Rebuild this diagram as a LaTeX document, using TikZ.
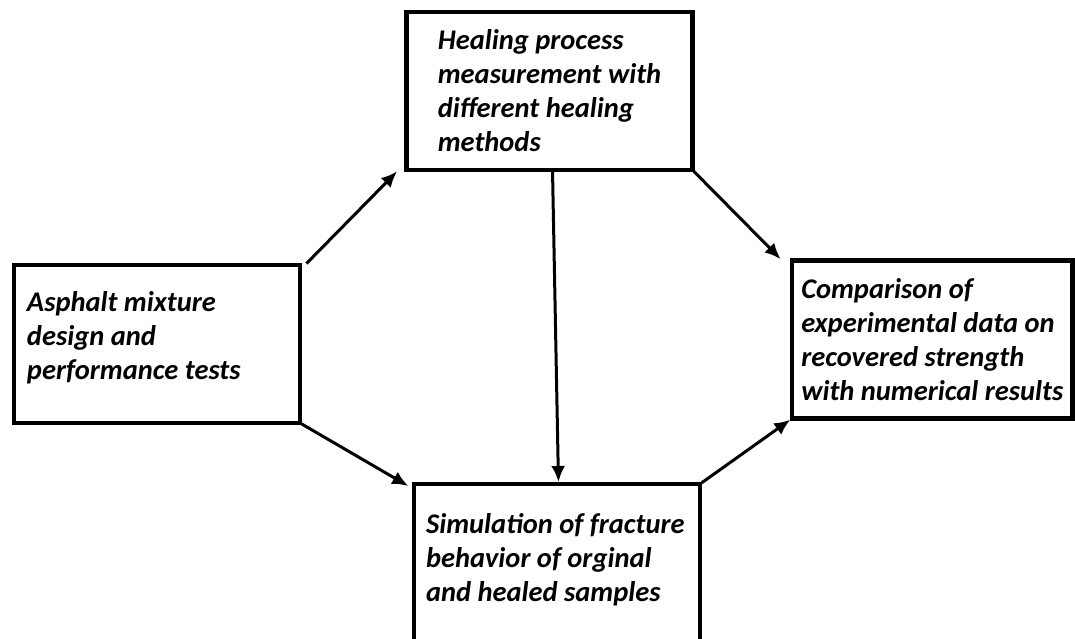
\documentclass[tikz,border=0pt]{standalone}
\usepackage{fontspec}
\setmainfont{Carlito}
\usetikzlibrary{positioning,arrows.meta}

\begin{document}
\begin{tikzpicture}[x=1pt,y=-1pt,
		box/.style={rectangle,draw,line width=4.5pt,outer sep=0pt,inner sep=0pt,align=flush left,minimum width=286pt,minimum height=158pt,font=\fontsize{28.5}{34}\selectfont\bfseries\itshape},
		a/.style={draw,-{Latex[length=16pt,width=14pt]},line width=3pt,shorten <=2pt,shorten >=2pt}
		]
		\useasboundingbox (0,0) rectangle (1075,639);
		
		\node [box,text width=260pt] (asphalt) at (157,344) {Asphalt mixture\\design and\\performance tests\\[-17pt]\mbox{}};
		\node [box,above right=95pt and 106.5pt of asphalt.north east] (healing) {Healing process\\measurement with\\different healing\\methods};
		\node [box,text width=262pt,minimum height=162pt,below right=61pt and 114pt of asphalt.south east] (simulation) {Simulation of fracture\\behavior of orginal\\and healed samples\\[-19pt]\mbox{}};
		\node [box,minimum width=280.5pt,below right=90.5pt and 99.5pt of healing.south east] (comparison) {Comparison of\\experimental data on\\recovered strength\\with numerical results};
		
		\path [a] ([xshift=5pt]asphalt.north east) -- ([xshift=-8pt]healing.south west);
		\path [a] (asphalt.south east) -- ([xshift=-4pt,yshift=-3pt]simulation.north west);
		\path [a] ([xshift=3pt]healing.south) -- ([xshift=1.5pt]simulation.north);
		\path [a] (healing.south east) -- ([xshift=-10pt]comparison.north west);
		\path [a] (simulation.north east) -- (comparison.south west);
		
	\end{tikzpicture}
\end{document}
